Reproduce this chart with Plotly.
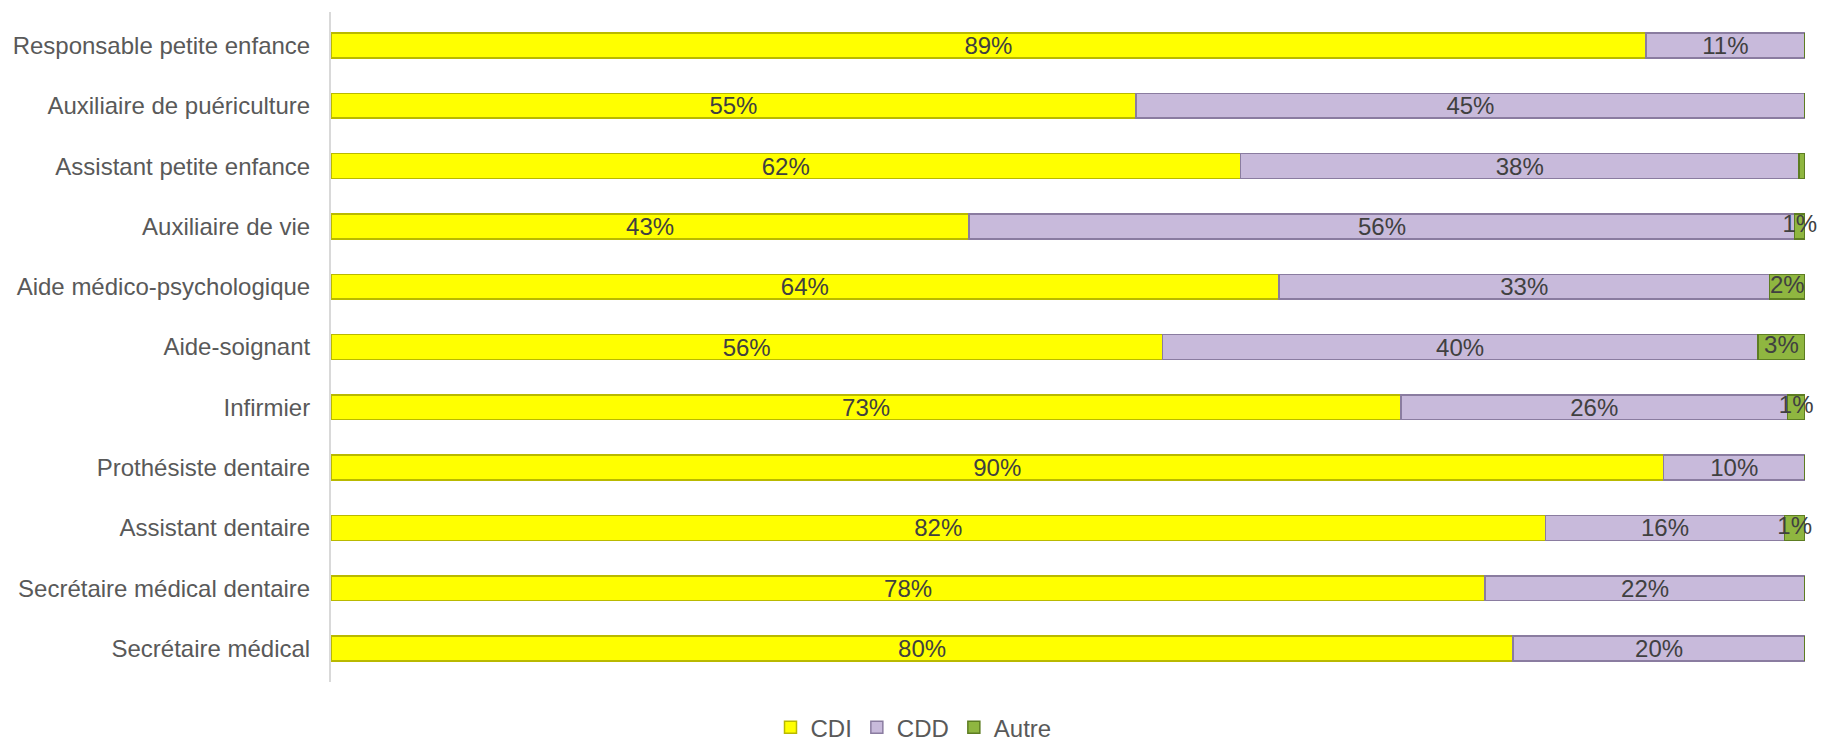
import plotly.graph_objects as go

categories = [
    "Responsable petite enfance",
    "Auxiliaire de puériculture",
    "Assistant petite enfance",
    "Auxiliaire de vie",
    "Aide médico-psychologique",
    "Aide-soignant",
    "Infirmier",
    "Prothésiste dentaire",
    "Assistant dentaire",
    "Secrétaire médical dentaire",
    "Secrétaire médical",
]
cdi = [89.2, 54.6, 61.7, 43.3, 64.3, 56.4, 72.6, 90.4, 82.4, 78.3, 80.2]
cdd = [10.8, 45.4, 37.9, 56.0, 33.3, 40.4, 26.2, 9.6, 16.2, 21.7, 19.8]
autre = [0.0, 0.0, 0.4, 0.7, 2.4, 3.2, 1.2, 0.0, 1.4, 0.0, 0.0]

series = [
    ("CDI", cdi, "#ffff00", "#b9b900"),
    ("CDD", cdd, "#c8badb", "#8a7ca0"),
    ("Autre", autre, "#8fb640", "#5d7d22"),
]

FONT = "Liberation Sans, Arial, sans-serif"
LABEL_FONT = dict(family=FONT, size=24, color="#404040")


def label(v):
    r = int(round(v))
    return f"{r}%" if r > 0 else ""


fig = go.Figure()
for name, vals, fill, line in series:
    is_last = name == "Autre"
    fig.add_trace(go.Bar(
        name=name,
        y=categories,
        x=vals,
        orientation="h",
        marker=dict(color=fill, line=dict(color=line, width=1.5)),
        text=None if is_last else [label(v) for v in vals],
        textposition="none" if is_last else "inside",
        insidetextanchor="middle",
        textangle=0,
        constraintext="none",
        insidetextfont=LABEL_FONT,
        textfont=LABEL_FONT,
        cliponaxis=False,
        hoverinfo="skip",
    ))

# labels of the small "Autre" segments, centred on each segment
autre_mid = [c + d + a / 2 for c, d, a in zip(cdi, cdd, autre)]
fig.add_trace(go.Scatter(
    x=autre_mid,
    y=categories,
    mode="text",
    text=[label(v) for v in autre],
    textposition="middle center",
    textfont=LABEL_FONT,
    showlegend=False,
    cliponaxis=False,
    hoverinfo="skip",
))

fig.update_layout(
    barmode="stack",
    bargap=0.59,
    width=1827,
    height=743,
    paper_bgcolor="white",
    plot_bgcolor="white",
    margin=dict(l=331, r=22, t=12, b=61, autoexpand=False),
    font=dict(family=FONT, size=24, color="#595959"),
    showlegend=True,
    legend=dict(
        orientation="h",
        xref="container",
        x=0.5,
        xanchor="center",
        yref="paper",
        y=-0.068,
        yanchor="middle",
        font=dict(family=FONT, size=24, color="#595959"),
        itemwidth=30,
        traceorder="normal",
    ),
    xaxis=dict(
        range=[0, 100],
        visible=False,
        showgrid=False,
        zeroline=False,
    ),
    yaxis=dict(
        autorange="reversed",
        showline=True,
        linecolor="#d9d9d9",
        linewidth=2,
        showgrid=False,
        ticks="",
        automargin=False,
        ticklabelstandoff=14,
        tickfont=dict(family=FONT, size=24, color="#595959"),
    ),
)

fig.write_html(
    "out.html",
    config={"displayModeBar": False},
    post_script="document.body.style.margin='0';document.body.style.padding='0';",
)
